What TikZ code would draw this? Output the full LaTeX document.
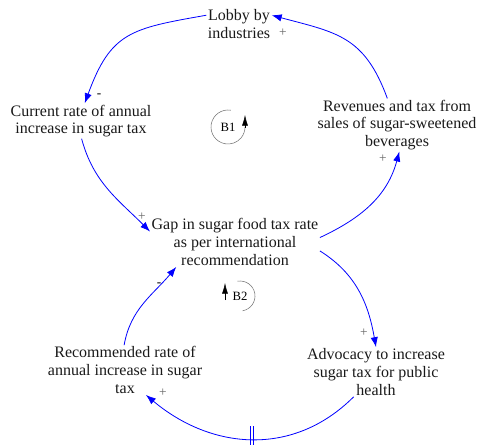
\documentclass[tikz,border=0pt]{standalone}
\usepackage{fontspec}
\setmainfont{Liberation Serif}
\usepackage{tikz}
\usetikzlibrary{calc}                                %allows coordinate calculations.
\usetikzlibrary{arrows.meta}                         %allows Latex arrow tips.

\begin{document}
\begin{tikzpicture}[x=0.75pt,y=0.75pt,
  var/.style={align=center, inner sep=1pt, font=\fontsize{12}{13.2}\selectfont, text=black!90},
  link/.style={blue, line width=0.6pt, -{Latex[length=7.5pt,width=5.5pt]}},
  pol/.style={font=\fontsize{10}{11}\selectfont, text=black!60, inner sep=0pt},
  loopsym/.style={black!55, line width=0.4pt},
  looplbl/.style={font=\fontsize{9.5}{11}\selectfont, inner sep=0pt}]

\useasboundingbox (0,0) rectangle (478,444);

% Define loop symbol parameters
\def\lra{17}     %Radius of B1 symbol.
\def\lrb{15}     %Radius of B2 symbol.

% Define coordinates.
\coordinate (b1) at (228,317);
\coordinate (b2) at (240,148);

% VARIABLES
\node[var] (lobby) at (239,420) {Lobby by\\industries};
\node[var] (cur) at (81,323) {Current rate of annual\\increase in sugar tax};
\node[var] (rev) at (397,319) {Revenues and tax from\\sales of sugar-sweetened\\beverages};
\node[var] (gap) at (235,202) {Gap in sugar food tax rate\\as per international\\recommendation};
\node[var] (rec) at (125,74) {Recommended rate of\\annual increase in sugar\\tax};
\node[var] (adv) at (376,72) {Advocacy to increase\\sugar tax for public\\health};

% Links of loop B1
\draw[link] (rev.110) to[out=110,in=-15,looseness=1.2] (lobby.15);
\draw[link] (lobby.165) to[out=190,in=70,looseness=1.3] (cur.78);
\draw[link] (cur.272) to[out=285,in=135] (gap.173);
\draw[link] (gap.3) to[out=25,in=255] (rev.275);

% Links of loop B2
\draw[link] (gap.-6) to[out=-32,in=100] (adv.north);
\draw[link] (adv.228) to[out=225,in=-40,looseness=1.05] coordinate[pos=0.5] (dly) (rec.-50);
\draw[link] (rec.92) to[out=80,in=230] (gap.203);

% Delay mark
\draw[blue, line width=0.6pt] ($(dly)+(-1.6,-10)$) -- ($(dly)+(-1.6,13)$);
\draw[blue, line width=0.6pt] ($(dly)+(1.6,-10)$) -- ($(dly)+(1.6,13)$);

% Polarities
\node[pol] (plobby) at (283,411) {+};
\node[pol, text=black] (mcur) at (99,348) {-};
\node[pol] (prev) at (383,285) {+};
\node[pol] (pgap) at (142,227) {+};
\node[pol] (padv) at (364,111) {+};
\node[pol] (prec) at (163,51) {+};
\node[pol, text=black] (mgap) at (159,159) {-};

% Loop B1
\node[looplbl] (b1lbl) at (b1) {B1};
\draw[loopsym] ($(b1)+(80:\lra)$) arc[start angle=80, end angle=360, radius=\lra];
\draw[black, line width=0.4pt, -{Latex[length=8pt,width=4.5pt]}] ($(b1)+(\lra,-1)$) -- ++(0,13);

% Loop B2
\node[looplbl] (b2lbl) at (b2) {B2};
\draw[loopsym] ($(b2)+(100:\lrb)$) arc[start angle=100, end angle=-80, radius=\lrb];
\draw[black, line width=0.4pt, -{Latex[length=8pt,width=4.5pt]}] ($(b2)+(-\lrb,-4)$) -- ++(0,17);

\end{tikzpicture}
\end{document}
